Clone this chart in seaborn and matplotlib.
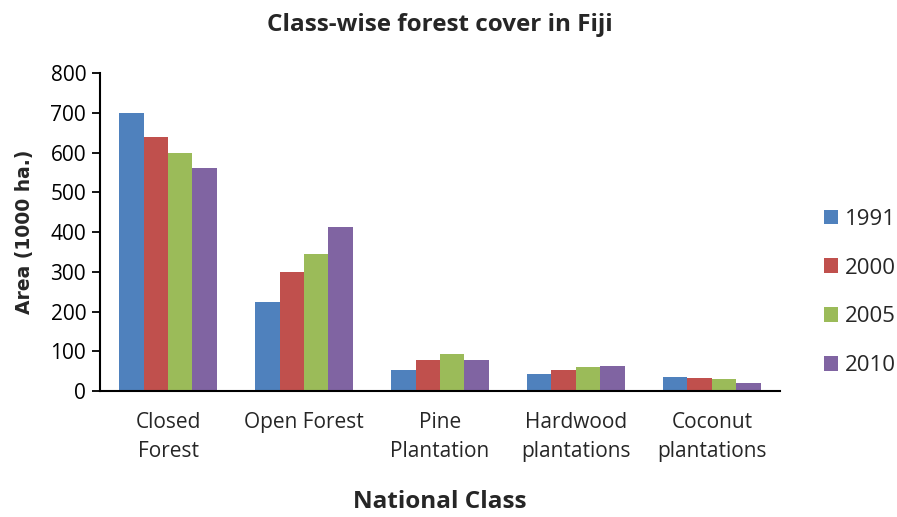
import pandas as pd
import matplotlib
matplotlib.use("Agg")
import matplotlib.pyplot as plt
import seaborn as sns

# data (1000 ha)
classes = ["Closed\nForest", "Open Forest", "Pine\nPlantation",
           "Hardwood\nplantations", "Coconut\nplantations"]
years = ["1991", "2000", "2005", "2010"]
area_1991 = [700, 225, 54, 42, 35]
area_2000 = [638, 300, 77, 54, 32]
area_2005 = [600, 345, 94, 61, 29]
area_2010 = [560, 413, 77, 63, 19]
colors = ["#4F81BD", "#C0504D", "#9BBB59", "#8064A2"]

rows = []
for yr, vals in zip(years, [area_1991, area_2000, area_2005, area_2010]):
    for c, v in zip(classes, vals):
        rows.append({"National Class": c, "Year": yr, "Area": v})
df = pd.DataFrame(rows)

sns.set_style("white")
plt.rcParams["font.family"] = ["Open Sans", "DejaVu Sans"]

fig = plt.figure(figsize=(8.97, 5.17), dpi=100)
ax = fig.add_axes([0.1115, 0.2437, 0.758, 0.615])

sns.barplot(data=df, x="National Class", y="Area", hue="Year",
            hue_order=years, palette=colors, width=0.72, gap=0,
            saturation=1, ax=ax, linewidth=0)

ax.set_ylim(0, 800)
ax.set_yticks(range(0, 801, 100))
ax.set_xlim(-0.5, 4.5)
sns.despine(ax=ax)
for s in ["left", "bottom"]:
    ax.spines[s].set_color("black")
    ax.spines[s].set_linewidth(1.5)
ax.tick_params(axis="y", direction="out", length=6, width=1.3,
               left=True, labelsize=15, colors="black", pad=4)
ax.tick_params(axis="x", length=0, labelsize=15, pad=15)
for lbl in ax.get_xticklabels():
    lbl.set_linespacing(1.5)
ax.set_xlabel("National Class", fontsize=17.5, fontweight="bold", labelpad=20)
ax.set_ylabel("Area (1000 ha.)", fontsize=13.5, fontweight="bold",
              family="DejaVu Sans", labelpad=12)
ax.set_title("Class-wise forest cover in Fiji", fontsize=17.5,
             fontweight="bold", pad=30)

leg = ax.legend(loc="center left", bbox_to_anchor=(1.035, 0.31), frameon=False,
                fontsize=16, handlelength=0.65, handleheight=0.65,
                handletextpad=0.3, labelspacing=1.25)

fig.savefig("out.png", dpi=100)
